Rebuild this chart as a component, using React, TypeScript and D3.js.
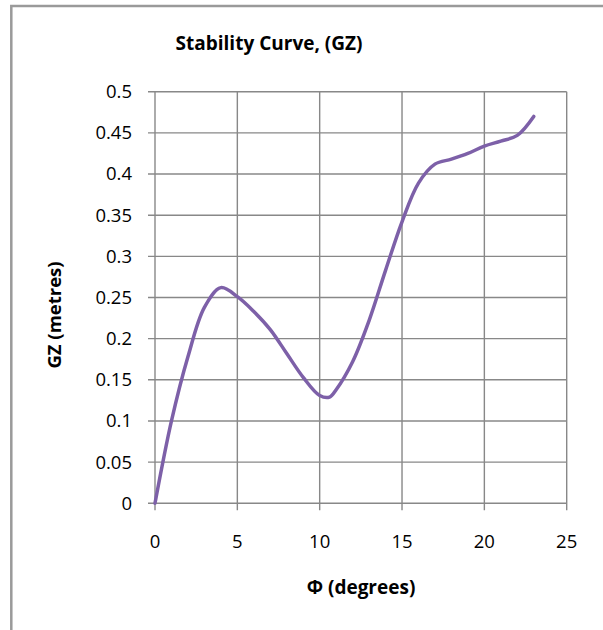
import * as d3 from "d3";

const W = 603;
const H = 630;

// heel angle (degrees) and GZ (metres)
const angles = [0, 1, 2, 3, 4, 5, 6, 7, 8, 9, 10, 10.6, 11, 12, 13, 14, 15, 16, 17, 18, 19, 20, 21, 22, 23];
const gz = [0, 0.1, 0.178, 0.238, 0.262, 0.251, 0.233, 0.211, 0.182, 0.153, 0.131, 0.129, 0.138, 0.172, 0.222, 0.283, 0.342, 0.389, 0.412, 0.418, 0.425, 0.434, 0.44, 0.447, 0.47];

const xTicks = [0, 5, 10, 15, 20, 25];
const yTicks = [0, 0.05, 0.1, 0.15, 0.2, 0.25, 0.3, 0.35, 0.4, 0.45, 0.5];

const title = "Stability Curve, (GZ)";
const xTitle = "Φ (degrees)";
const yTitle = "GZ (metres)";

const FONT = "'Open Sans', 'DejaVu Sans', sans-serif";
const GRID = "#888888";
const LINE = "#7d60a8";

export default function App() {
  const x = d3.scaleLinear().domain([0, 25]).range([155, 566.7]);
  const y = d3.scaleLinear().domain([0, 0.5]).range([503.3, 91.7]);

  const pts = angles.map((a, i) => [a, gz[i]] as [number, number]);
  const path = d3
    .line<[number, number]>()
    .x((d) => x(d[0]))
    .y((d) => y(d[1]))
    .curve(d3.curveCatmullRom.alpha(0.5))(pts);

  return (
    <svg
      width={W}
      height={H}
      style={{ position: "absolute", left: 0, top: 0, background: "#fff" }}
    >
      <rect x={11.3} y={6} width={800} height={800} fill="#fff" stroke="#9a9a9a" strokeWidth={2.5} />

      <text x={269} y={50} textAnchor="middle" fontFamily={FONT} fontWeight="bold" fontSize={19} fill="#000">
        {title}
      </text>

      {/* grid */}
      {yTicks.map((t) => (
        <line key={"gy" + t} x1={148} x2={x(25)} y1={y(t)} y2={y(t)} stroke={GRID} strokeWidth={1.4} />
      ))}
      {xTicks.map((t) => (
        <line key={"gx" + t} x1={x(t)} x2={x(t)} y1={y(0.5)} y2={y(0) + 7} stroke={GRID} strokeWidth={1.4} />
      ))}

      {yTicks.map((t) => (
        <text key={"ty" + t} x={132} y={y(t)} dy="0.35em" textAnchor="end" fontFamily={FONT} fontSize={18.5} fill="#000">
          {String(t)}
        </text>
      ))}
      {xTicks.map((t) => (
        <text key={"tx" + t} x={x(t)} y={542} dy="0.35em" textAnchor="middle" fontFamily={FONT} fontSize={18.5} fill="#000">
          {String(t)}
        </text>
      ))}

      <path d={path ?? ""} fill="none" stroke={LINE} strokeWidth={3.5} strokeLinejoin="round" strokeLinecap="round" />

      <text x={361} y={587} dy="0.35em" textAnchor="middle" fontFamily={FONT} fontWeight="bold" fontSize={19} fill="#000">
        {xTitle}
      </text>
      <text
        transform="translate(55,315) rotate(-90)"
        dy="0.35em"
        textAnchor="middle"
        fontFamily={FONT}
        fontWeight="bold"
        fontSize={18.5}
        fill="#000"
      >
        {yTitle}
      </text>
    </svg>
  );
}
